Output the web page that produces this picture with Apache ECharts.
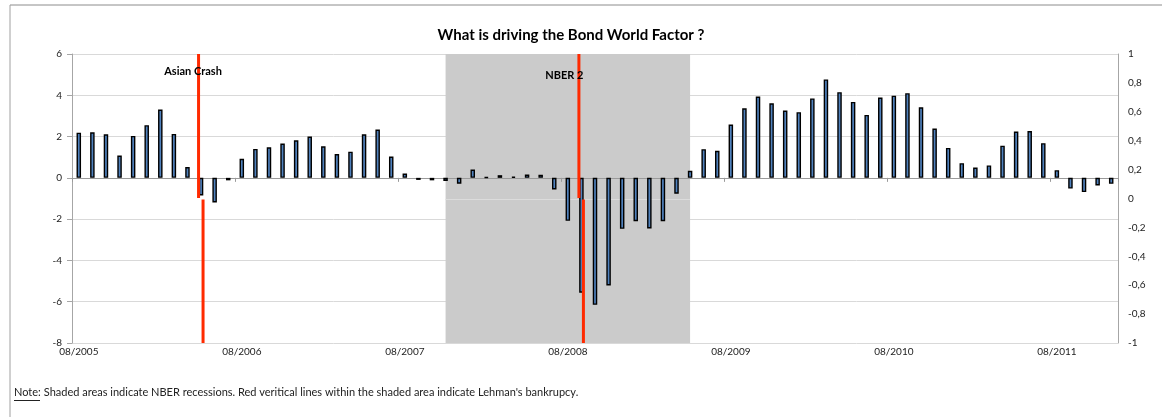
<!DOCTYPE html>
<html>
<head>
<meta charset="utf-8">
<script src="https://cdn.jsdelivr.net/npm/echarts@6/dist/echarts.min.js"></script>
<style>
html,body{margin:0;padding:0;background:#fff;}
#chart{width:1162px;height:417px;}
</style>
</head>
<body>
<div id="chart"></div>
<script>
var categories = [
  '08/2005','09/2005','10/2005','11/2005','12/2005',
  '01/2006','02/2006','03/2006','04/2006','05/2006','06/2006','07/2006','08/2006','09/2006','10/2006','11/2006','12/2006',
  '01/2007','02/2007','03/2007','04/2007','05/2007','06/2007','07/2007','08/2007','09/2007','10/2007','11/2007','12/2007',
  '01/2008','02/2008','03/2008','04/2008','05/2008','06/2008','07/2008','08/2008','09/2008','10/2008','11/2008','12/2008',
  '01/2009','02/2009','03/2009','04/2009','05/2009','06/2009','07/2009','08/2009','09/2009','10/2009','11/2009','12/2009',
  '01/2010','02/2010','03/2010','04/2010','05/2010','06/2010','07/2010','08/2010','09/2010','10/2010','11/2010','12/2010',
  '01/2011','02/2011','03/2011','04/2011','05/2011','06/2011','07/2011','08/2011','09/2011','10/2011','11/2011','12/2011'
];
var factorValues = [
  2.19, 2.21, 2.11, 1.08, 2.03, 2.55, 3.31, 2.13, 0.52, -0.85,
  -1.19, -0.12, 0.92, 1.40, 1.48, 1.66, 1.82, 2.00, 1.53, 1.15,
  1.27, 2.11, 2.34, 1.03, 0.21, -0.10, -0.12, -0.15, -0.28, 0.40,
  0.04, 0.13, 0.06, 0.16, 0.15, -0.56, -2.08, -5.56, -6.15, -5.21,
  -2.47, -2.10, -2.45, -2.10, -0.77, 0.34, 1.39, 1.31, 2.58, 3.37,
  3.94, 3.61, 3.26, 3.18, 3.85, 4.77, 4.15, 3.68, 3.05, 3.89,
  3.98, 4.10, 3.42, 2.39, 1.45, 0.71, 0.50, 0.60, 1.56, 2.24,
  2.27, 1.68, 0.37, -0.52, -0.69, -0.37, -0.29
];
var recessionStart = ['11/2007'];
var recessionEnd = ['05/2009'];
var eventCategories = ['05/2006', '09/2008'];
var eventLabels = ['Asian Crash', 'NBER 2'];
var leftAxisTicks = [-8, -6, -4, -2, 0, 2, 4, 6];
var rightAxisTicks = [-1, -0.8, -0.6, -0.4, -0.2, 0, 0.2, 0.4, 0.6, 0.8, 1];
var titleText = 'What is driving the Bond World Factor ?';
var noteLead = 'Note:';
var noteText = ' Shaded areas indicate NBER recessions. Red veritical lines within the shaded area indicate Lehman\'s bankrupcy.';

var FONT = 'Lato, "Open Sans", sans-serif';
var chart = echarts.init(document.getElementById('chart'), null, {renderer: 'canvas'});

var recessionData = recessionStart.map(function (s, k) {
  return [categories.indexOf(s), categories.indexOf(recessionEnd[k])];
});
var eventData = eventCategories.map(function (c, k) { return [categories.indexOf(c), k]; });
var labelOffsets = [{dx: -8, dy: 17}, {dx: -17, dy: 21}];

var option = {
  animation: false,
  backgroundColor: '#fff',
  title: {
    text: titleText,
    left: 566, top: 23, textAlign: 'center',
    textStyle: {fontFamily: FONT, fontSize: 15, fontWeight: 'bold', color: '#000'}
  },
  grid: {left: 72, right: 44, top: 54, bottom: 74, containLabel: false},
  xAxis: [
    {
      type: 'category', data: categories, position: 'bottom', boundaryGap: true,
      axisLine: {show: false, onZero: false},
      axisTick: {show: false},
      axisLabel: {interval: 11, fontSize: 10, fontFamily: FONT, color: '#222', margin: 4},
      splitLine: {show: false}
    },
    {
      type: 'category', data: categories, position: 'bottom', boundaryGap: true, z: 3,
      axisLine: {show: true, onZero: true, onZeroAxisIndex: 0, lineStyle: {color: '#9a9a9a', width: 1}},
      axisTick: {show: true, interval: 11, length: 4, lineStyle: {color: '#9a9a9a'}},
      axisLabel: {show: false},
      splitLine: {show: false}
    }
  ],
  yAxis: [
    {
      type: 'value', min: leftAxisTicks[0], max: leftAxisTicks[leftAxisTicks.length - 1], interval: 2,
      position: 'left',
      axisLine: {show: true, lineStyle: {color: '#a6a6a6'}},
      axisTick: {show: true, length: 5, lineStyle: {color: '#a6a6a6'}},
      axisLabel: {fontSize: 10, fontFamily: FONT, color: '#222', margin: 10},
      splitLine: {show: true, lineStyle: {color: '#d9d9d9', width: 1}}
    },
    {
      type: 'value', min: rightAxisTicks[0], max: rightAxisTicks[rightAxisTicks.length - 1], interval: 0.2,
      position: 'right',
      axisLine: {show: true, lineStyle: {color: '#a6a6a6'}},
      axisTick: {show: false},
      axisLabel: {
        fontSize: 10, fontFamily: FONT, color: '#222', margin: 10,
        formatter: function (v) { return String(+v.toFixed(1)).replace('.', ','); }
      },
      splitLine: {show: false}
    }
  ],
  series: [
    {
      type: 'custom', name: 'recession', xAxisIndex: 0, yAxisIndex: 1, z: 1, silent: true,
      data: recessionData,
      renderItem: function (params, api) {
        var x0 = api.coord([api.value(0), 0])[0];
        var x1 = api.coord([api.value(1), 0])[0];
        var yTop = api.coord([0, 1])[1];
        var yMid = api.coord([0, 0])[1];
        var yBot = api.coord([0, -1])[1];
        return {
          type: 'group',
          children: [
            {type: 'rect', shape: {x: x0, y: yTop, width: x1 - x0, height: yBot - yTop}, style: {fill: '#cbcbcb'}},
            {type: 'line', shape: {x1: x0, y1: Math.round(yMid) + 0.5, x2: x1, y2: Math.round(yMid) + 0.5}, style: {stroke: '#dcdcdc', lineWidth: 1}}
          ]
        };
      }
    },
    {
      type: 'bar', name: 'Bond World Factor', xAxisIndex: 0, yAxisIndex: 0, z: 4,
      data: factorValues, barWidth: 4.5,
      itemStyle: {color: '#4f81bd', borderColor: '#000', borderWidth: 1.4}
    },
    {
      type: 'custom', name: 'events', xAxisIndex: 0, yAxisIndex: 1, z: 6, silent: true,
      data: eventData,
      renderItem: function (params, api) {
        var cx = api.coord([api.value(0), 0])[0];
        var yTop = api.coord([0, 1])[1];
        var yMid = api.coord([0, 0])[1];
        var yBot = api.coord([0, -1])[1];
        var k = api.value(1);
        var off = labelOffsets[k];
        return {
          type: 'group',
          children: [
            {type: 'rect', shape: {x: cx - 4, y: yTop, width: 3, height: yMid - yTop - 0.5}, style: {fill: '#ff2a00'}},
            {type: 'rect', shape: {x: cx + 0.5, y: yMid + 1, width: 3, height: yBot - yMid - 1}, style: {fill: '#ff2a00'}},
            {type: 'text', x: cx + off.dx, y: yTop + off.dy, style: {
              text: eventLabels[k], fill: '#000', font: 'bold 11px ' + FONT,
              textAlign: 'center', textVerticalAlign: 'middle'
            }}
          ]
        };
      }
    }
  ],
  graphic: [
    {type: 'line', shape: {x1: 10, y1: 5, x2: 1162, y2: 5}, style: {stroke: '#8c8c8c', lineWidth: 1}},
    {type: 'line', shape: {x1: 10, y1: 5, x2: 10, y2: 417}, style: {stroke: '#a0a0a0', lineWidth: 1}},
    {type: 'text', left: 14, top: 387, style: {text: noteLead, fill: '#222', font: '11px ' + FONT}},
    {type: 'line', shape: {x1: 14, y1: 400.5, x2: 40, y2: 400.5}, style: {stroke: '#222', lineWidth: 1}},
    {type: 'text', left: 41, top: 387, style: {text: noteText, fill: '#222', font: '11px ' + FONT}}
  ]
};
chart.setOption(option);
</script>
</body>
</html>
